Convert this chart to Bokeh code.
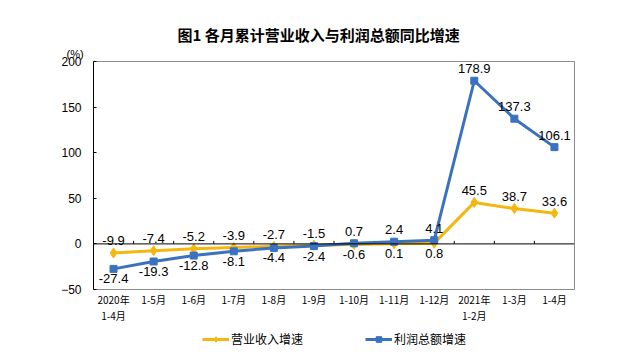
from bokeh.plotting import figure
from bokeh.layouts import column
from bokeh.models import (ColumnDataSource, Range1d, FixedTicker, Span, Title,
                          Legend, LegendItem)
from bokeh.core.properties import value
from bokeh.embed import file_html
from bokeh.resources import INLINE

# ---- data ----
categories = ["2020年\n1-4月", "1-5月", "1-6月", "1-7月", "1-8月", "1-9月",
              "1-10月", "1-11月", "1-12月", "2021年\n1-2月", "1-3月", "1-4月"]
revenue_growth = [-9.9, -7.4, -5.2, -3.9, -2.7, -1.5, -0.6, 0.1, 0.8, 45.5, 38.7, 33.6]
profit_growth = [-27.4, -19.3, -12.8, -8.1, -4.4, -2.4, 0.7, 2.4, 4.1, 178.9, 137.3, 106.1]
y_ticks = [-50, 0, 50, 100, 150, 200]
series_names = ["营业收入增速", "利润总额增速"]

# label placement (style)
revenue_label_side = ["above"] * 6 + ["below"] * 3 + ["above"] * 3
profit_label_side = ["below"] * 6 + ["above"] * 3 + ["above"] * 3

YELLOW = "#F5B70F"
BLUE = "#3A72C0"
NUM_FONT = "Liberation Sans"
CJK_FONT = "Noto Sans CJK SC"

n = len(categories)
xs = [i + 0.5 for i in range(n)]
src = ColumnDataSource(dict(x=xs, rev=revenue_growth, prof=profit_growth))

MAIN_H = 330
p = figure(width=629, height=MAIN_H, output_backend="svg", toolbar_location=None,
           x_range=Range1d(0, n), y_range=Range1d(y_ticks[0], y_ticks[-1]),
           min_border_left=93, min_border_right=55, min_border_top=61,
           min_border_bottom=MAIN_H - 289)
p.background_fill_color = "white"
p.border_fill_color = "white"
p.outline_line_color = "#8c8c8c"
p.outline_line_width = 1
p.grid.visible = False

# x axis (labels only, at bottom)
xa = p.xaxis[0]
xa.ticker = FixedTicker(ticks=xs)
xa.major_label_overrides = {x: c for x, c in zip(xs, categories)}
xa.axis_line_color = None
xa.major_tick_line_color = None
xa.minor_tick_line_color = None
xa.major_tick_in = 0
xa.major_tick_out = 0
xa.major_label_standoff = 2
xa.major_label_text_font = CJK_FONT
xa.major_label_text_font_size = "10px"
xa.major_label_text_color = "black"
xa.major_label_text_line_height = 1.1

# y axis
ya = p.yaxis[0]
ya.ticker = FixedTicker(ticks=y_ticks)
ya.axis_line_color = "black"
ya.major_tick_in = 3
ya.major_tick_out = 0
ya.major_tick_line_color = "black"
ya.minor_tick_line_color = None
ya.major_label_standoff = 12
ya.major_label_text_font = NUM_FONT
ya.major_label_text_font_size = "12px"
ya.major_label_text_color = "black"

# zero line with category boundary ticks
p.add_layout(Span(location=0, dimension="width", line_color="black", line_width=1))
bounds = list(range(1, n))
p.segment(x0=bounds, y0=[0] * len(bounds), x1=bounds, y1=[3.3] * len(bounds),
          line_color="black", line_width=1)

# series
def draw_series(fig):
    rl = fig.line("x", "rev", source=src, line_color=YELLOW, line_width=3, line_join="round")
    rp = fig.scatter("x", "rev", source=src, marker="diamond", size=10,
                     fill_color=YELLOW, line_color=YELLOW)
    bl = fig.line("x", "prof", source=src, line_color=BLUE, line_width=3, line_join="round")
    bp = fig.scatter("x", "prof", source=src, marker="square", size=7,
                     fill_color=BLUE, line_color=BLUE)
    return rl, rp, bl, bp

draw_series(p)

# data labels
def add_labels(vals, sides):
    lt = [f"{v:.1f}" for v in vals]
    lo = [-12 if s == "above" else 10 for s in sides]
    ls = ColumnDataSource(dict(x=xs, y=vals, t=lt, o=lo))
    p.text("x", "y", text="t", source=ls, y_offset="o", text_align="center",
           text_baseline="middle", text_font=value(NUM_FONT),
           text_font_size="13px", text_color="black")

add_labels(revenue_growth, revenue_label_side)
add_labels(profit_growth, profit_label_side)

# unit label (closest to frame) and main title
p.add_layout(Title(text="(%)", align="left", offset=-27, standoff=3,
                   text_font=NUM_FONT, text_font_size="11px",
                   text_font_style="normal", text_color="black"), "above")
p.title.text = "图1  各月累计营业收入与利润总额同比增速"
p.title.align = "left"
p.title.offset = 84
p.title.standoff = 0
p.title.text_font = CJK_FONT
p.title.text_font_size = "15px"
p.title.text_font_style = "bold"
p.title.text_color = "black"

# legend strip below the chart (sample glyphs kept out of view)
LEG_H = 358 - MAIN_H
q = figure(width=629, height=LEG_H, output_backend="svg", toolbar_location=None,
           x_range=Range1d(1000, 1001), y_range=Range1d(1000, 1001),
           x_axis_location=None, y_axis_location=None,
           min_border=0, min_border_left=0, min_border_right=0,
           min_border_top=0, min_border_bottom=0)
q.grid.visible = False
q.outline_line_color = None
q.background_fill_color = "white"
q.border_fill_color = "white"
rl, rp, bl, bp = draw_series(q)
legend = Legend(items=[LegendItem(label=series_names[0], renderers=[rl, rp]),
                       LegendItem(label=series_names[1], renderers=[bl, bp])],
                location=(109, 11), orientation="horizontal",
                glyph_width=27, glyph_height=14, label_height=14,
                label_standoff=2, spacing=62, padding=0, margin=0,
                border_line_color=None, background_fill_alpha=0,
                label_text_font=CJK_FONT, label_text_font_size="12px",
                label_text_color="black")
q.add_layout(legend, "center")

layout = column(p, q, spacing=0)
open("out.html", "w").write(file_html(layout, INLINE))
